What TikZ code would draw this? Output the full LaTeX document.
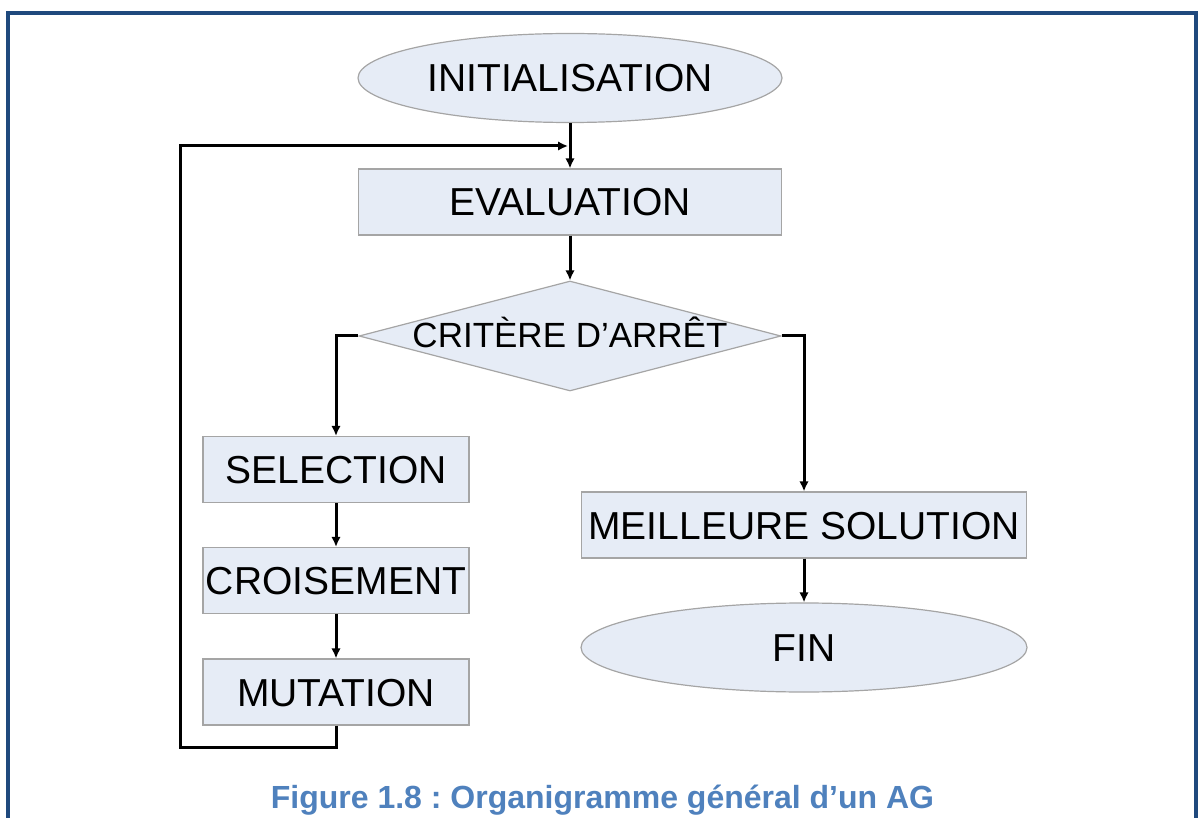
\documentclass[tikz,border=0pt]{standalone}
\usepackage{fontspec}
\setmainfont{Liberation Sans}
\usetikzlibrary{shapes.geometric,arrows.meta}
\definecolor{boxfill}{RGB}{230,236,246}
\definecolor{boxline}{RGB}{165,165,165}
\definecolor{framecol}{RGB}{31,73,125}
\definecolor{capcol}{RGB}{79,129,189}
\frenchspacing

\begin{document}
\begin{tikzpicture}[x=1pt,y=-1pt,
  shapebase/.style={draw=boxline, fill=boxfill, line width=1.2pt, inner sep=0pt,
    font=\fontsize{39}{42}\selectfont, text height=28pt, text depth=0pt},
  proc/.style={shapebase, rectangle, minimum width=#1, minimum height=66pt},
  term/.style={shapebase, ellipse, minimum width=#1, minimum height=89pt},
  decide/.style={shapebase, diamond, minimum width=422pt, minimum height=110pt},
  decidetext/.style={inner sep=0pt, font=\fontsize{35}{38}\selectfont, text height=25pt, text depth=0pt},
  flow/.style={line width=3pt, -{Latex[length=10pt,width=9.5pt]}},
  caption/.style={inner sep=0pt, anchor=base, text=capcol, font=\fontsize{32}{36}\selectfont\bfseries}]

\useasboundingbox (0,0) rectangle (1200,818);

% outer frame (open at the bottom)
\draw[framecol, line width=4pt] (8,818) -- (8,13) -- (1196,13) -- (1196,818);

% main column
\node[term=424pt] (init) at (570,78) {INITIALISATION};
\node[proc=423pt] (eval) at (570,202) {EVALUATION};
\node[decide] (crit) at (570,336) {};
\node[decidetext] (crittext) at (570,335) {CRITÈRE D’ARRÊT};

% left branch
\node[proc=266pt] (sel) at (336,469.5) {SELECTION};
\node[proc=266pt] (cross) at (336,580.5) {CROISEMENT};
\node[proc=266pt] (mut) at (336,692) {MUTATION};

% right branch
\node[proc=445pt] (best) at (804,525) {MEILLEURE SOLUTION};
\node[term=446pt] (fin) at (804,647.5) {FIN};

% loop-back corners
\coordinate (loopbl) at (180,747);
\coordinate (join) at (568,146);

% connectors
\draw[flow] (init) -- (eval);
\draw[flow] (eval) -- (crit);
\draw[flow] (crit.west) -| (sel.north);
\draw[flow] (crit.east) -| (best.north);
\draw[flow] (sel) -- (cross);
\draw[flow] (cross) -- (mut);
\draw[flow] (best) -- (fin);
\draw[flow] (mut.south) |- (loopbl) |- (join);

% caption
\node[caption] (cap) at (602.5,808) {Figure 1.8 : Organigramme général d’un AG};
\end{tikzpicture}
\end{document}
